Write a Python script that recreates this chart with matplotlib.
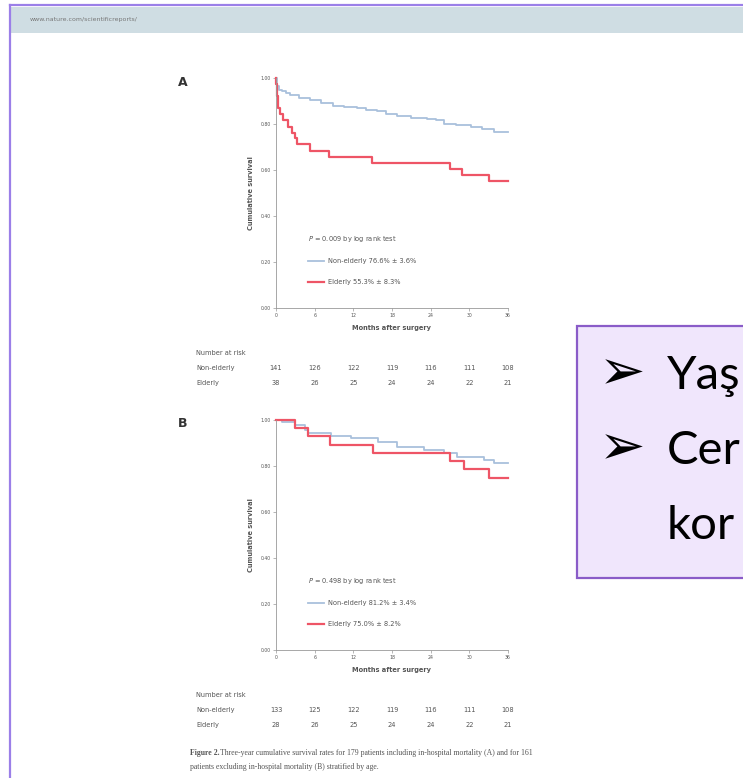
import matplotlib
matplotlib.use("Agg")
import matplotlib.pyplot as plt
from matplotlib.patches import Rectangle

# Figure size in pixels (slide screenshot)
W, H = 743, 778

# ---- data ----
month_ticks = [0, 6, 12, 18, 24, 30, 36]
y_ticks = [0.0, 0.2, 0.4, 0.6, 0.8, 1.0]
y_tick_labels = ["0.00", "0.20", "0.40", "0.60", "0.80", "1.00"]

# Panel A (including in-hospital mortality)
a_non_t = [0, 0.2, 0.4, 0.9, 1.5, 2.2, 3.5, 5.3, 7.0, 8.9, 10.5, 12.5, 14.0,
           15.6, 17.0, 18.8, 21.0, 23.4, 24.8, 26.0, 28.0, 30.2, 32.0, 33.8, 36]
a_non_s = [1.0, 0.965, 0.950, 0.942, 0.933, 0.926, 0.915, 0.905, 0.890, 0.879,
           0.872, 0.869, 0.862, 0.855, 0.845, 0.834, 0.827, 0.823, 0.816, 0.801,
           0.794, 0.787, 0.780, 0.766, 0.766]
a_eld_t = [0, 0.05, 0.1, 0.2, 0.3, 0.6, 1.1, 1.9, 2.5, 2.95, 3.2, 5.3, 8.2,
           14.9, 27.0, 28.9, 33.0, 36]
a_eld_s = [1.0, 0.974, 0.947, 0.921, 0.868, 0.842, 0.816, 0.789, 0.763, 0.737,
           0.711, 0.684, 0.658, 0.632, 0.605, 0.579, 0.553, 0.553]
risk_a_non = [141, 126, 122, 119, 116, 111, 108]
risk_a_eld = [38, 26, 25, 24, 24, 22, 21]

# Panel B (excluding in-hospital mortality)
b_non_t = [0, 1.0, 2.9, 4.5, 5.0, 8.6, 11.7, 15.8, 18.8, 23.0, 26.0, 28.1,
           32.2, 33.8, 36]
b_non_s = [1.0, 0.993, 0.978, 0.955, 0.942, 0.930, 0.920, 0.906, 0.884, 0.870,
           0.855, 0.840, 0.826, 0.812, 0.812]
b_eld_t = [0, 2.95, 5.0, 8.4, 15.0, 27.0, 29.1, 33.0, 36]
b_eld_s = [1.0, 0.964, 0.929, 0.893, 0.857, 0.821, 0.786, 0.750, 0.750]
risk_b_non = [133, 125, 122, 119, 116, 111, 108]
risk_b_eld = [28, 26, 25, 24, 24, 22, 21]

# visible part of the slide's bullet box (runs off the right edge)
box_lines = ["Yaş", "Cer", "kor"]
box_bullets = [True, True, False]

panels = [
    dict(tag="A", top=78, non=(a_non_t, a_non_s), eld=(a_eld_t, a_eld_s),
         p="$P$ = 0.009 by log rank test",
         non_lab="Non-elderly 76.6% \u00b1 3.6%", eld_lab="Elderly 55.3% \u00b1 8.3%",
         risk=(risk_a_non, risk_a_eld)),
    dict(tag="B", top=420, non=(b_non_t, b_non_s), eld=(b_eld_t, b_eld_s),
         p="$P$ = 0.498 by log rank test",
         non_lab="Non-elderly 81.2% \u00b1 3.4%", eld_lab="Elderly 75.0% \u00b1 8.2%",
         risk=(risk_b_non, risk_b_eld)),
]

BLUE = "#a9c0dc"
RED = "#ee5566"
GREY = "#555555"

fig = plt.figure(figsize=(W / 100, H / 100), dpi=100)
fig.patch.set_facecolor("white")


def fx(px):
    return px / W


def fy(py):
    return 1 - py / H


# slide frame + journal header bar
fig.patches.append(Rectangle((fx(10), fy(33)), 1, fy(7) - fy(33),
                             transform=fig.transFigure, facecolor="#cfdde3",
                             edgecolor="none", zorder=0))
fig.add_artist(plt.Line2D([fx(10), fx(10)], [fy(5), 0], color="#9b7fe8", lw=1.6))
fig.add_artist(plt.Line2D([fx(10), 1], [fy(5), fy(5)], color="#9b7fe8", lw=1.6))
fig.text(fx(30), fy(20), "www.nature.com/scientificreports/", fontsize=4.5,
         color="#777777", va="center", ha="left")

ax_left, ax_w, ax_h = 276, 232, 230

for pn in panels:
    top = pn["top"]
    ax = fig.add_axes([fx(ax_left), fy(top + ax_h), ax_w / W, ax_h / H])
    ax.set_xlim(0, 36)
    ax.set_ylim(0, 1)
    ax.step(pn["non"][0], pn["non"][1], where="post", color=BLUE, lw=1.3,
            label=pn["non_lab"], clip_on=False)
    ax.step(pn["eld"][0], pn["eld"][1], where="post", color=RED, lw=1.6,
            label=pn["eld_lab"], clip_on=False)

    for side in ["top", "right"]:
        ax.spines[side].set_visible(False)
    for side in ["left", "bottom"]:
        ax.spines[side].set_color("#999999")
        ax.spines[side].set_linewidth(0.6)
    ax.set_xticks(month_ticks)
    ax.set_yticks(y_ticks)
    ax.set_yticklabels(y_tick_labels)
    ax.tick_params(labelsize=3.3, colors="#999999", labelcolor=GREY,
                   length=2, width=0.5, pad=1.5)
    ax.set_ylabel("Cumulative survival", fontsize=4.8, fontweight="bold",
                  color=GREY, labelpad=5)
    ax.set_xlabel("Months after surgery", fontsize=4.8, fontweight="bold",
                  color=GREY, labelpad=5)

    leg = ax.legend(title=pn["p"], loc="upper left", bbox_to_anchor=(0.11, 0.35),
                    frameon=False, fontsize=4.8, title_fontsize=4.8,
                    labelspacing=2.2, handlelength=2.4, handletextpad=0.6,
                    alignment="left")
    for txt in leg.get_texts():
        txt.set_color(GREY)
    leg.get_title().set_color(GREY)

    fig.text(fx(178), fy(top + 4), pn["tag"], fontsize=9, fontweight="bold",
             color="#333333", va="center", ha="left")

    # number at risk table under the axes
    row_y = [top + ax_h + 45, top + ax_h + 60, top + ax_h + 75]
    fig.text(fx(196), fy(row_y[0]), "Number at risk", fontsize=4.8, color=GREY,
             va="center")
    fig.text(fx(196), fy(row_y[1]), "Non-elderly", fontsize=4.8, color=GREY,
             va="center")
    fig.text(fx(196), fy(row_y[2]), "Elderly", fontsize=4.8, color=GREY,
             va="center")
    for vals, ry in zip(pn["risk"], row_y[1:]):
        for m, n in zip(month_ticks, vals):
            ax.text(m, (top + ax_h - ry) / ax_h, str(n), fontsize=4.8, color=GREY,
                    ha="center", va="center", transform=ax.get_xaxis_transform())

# caption
fig.text(fx(190), fy(753), "Figure 2.", fontsize=5.6, fontweight="bold",
         family="Liberation Serif", color=GREY, va="center")
fig.text(fx(220), fy(753),
         "Three-year cumulative survival rates for 179 patients including "
         "in-hospital mortality (A) and for 161",
         fontsize=5.6, family="Liberation Serif", color=GREY, va="center")
fig.text(fx(190), fy(767),
         "patients excluding in-hospital mortality (B) stratified by age.",
         fontsize=5.6, family="Liberation Serif", color=GREY, va="center")

# overlay text box from the slide
fig.patches.append(Rectangle((fx(577), fy(578)), 1, fy(326) - fy(578),
                             transform=fig.transFigure, facecolor="#f0e6fc",
                             edgecolor="#8a5cc8", lw=1.6, zorder=5))
box_font = ["Lato", "DejaVu Sans"]
for ypx, bullet, txt in zip([376, 451, 526], box_bullets, box_lines):
    if bullet:
        fig.text(fx(599), fy(ypx - 2), "\u27a2", fontsize=40, family="DejaVu Sans",
                 color="black", va="center", ha="left", zorder=6)
    fig.text(fx(667), fy(ypx), txt, fontsize=34, family=box_font,
             color="black", va="center", ha="left", zorder=6)

fig.savefig("out.png", dpi=100)
